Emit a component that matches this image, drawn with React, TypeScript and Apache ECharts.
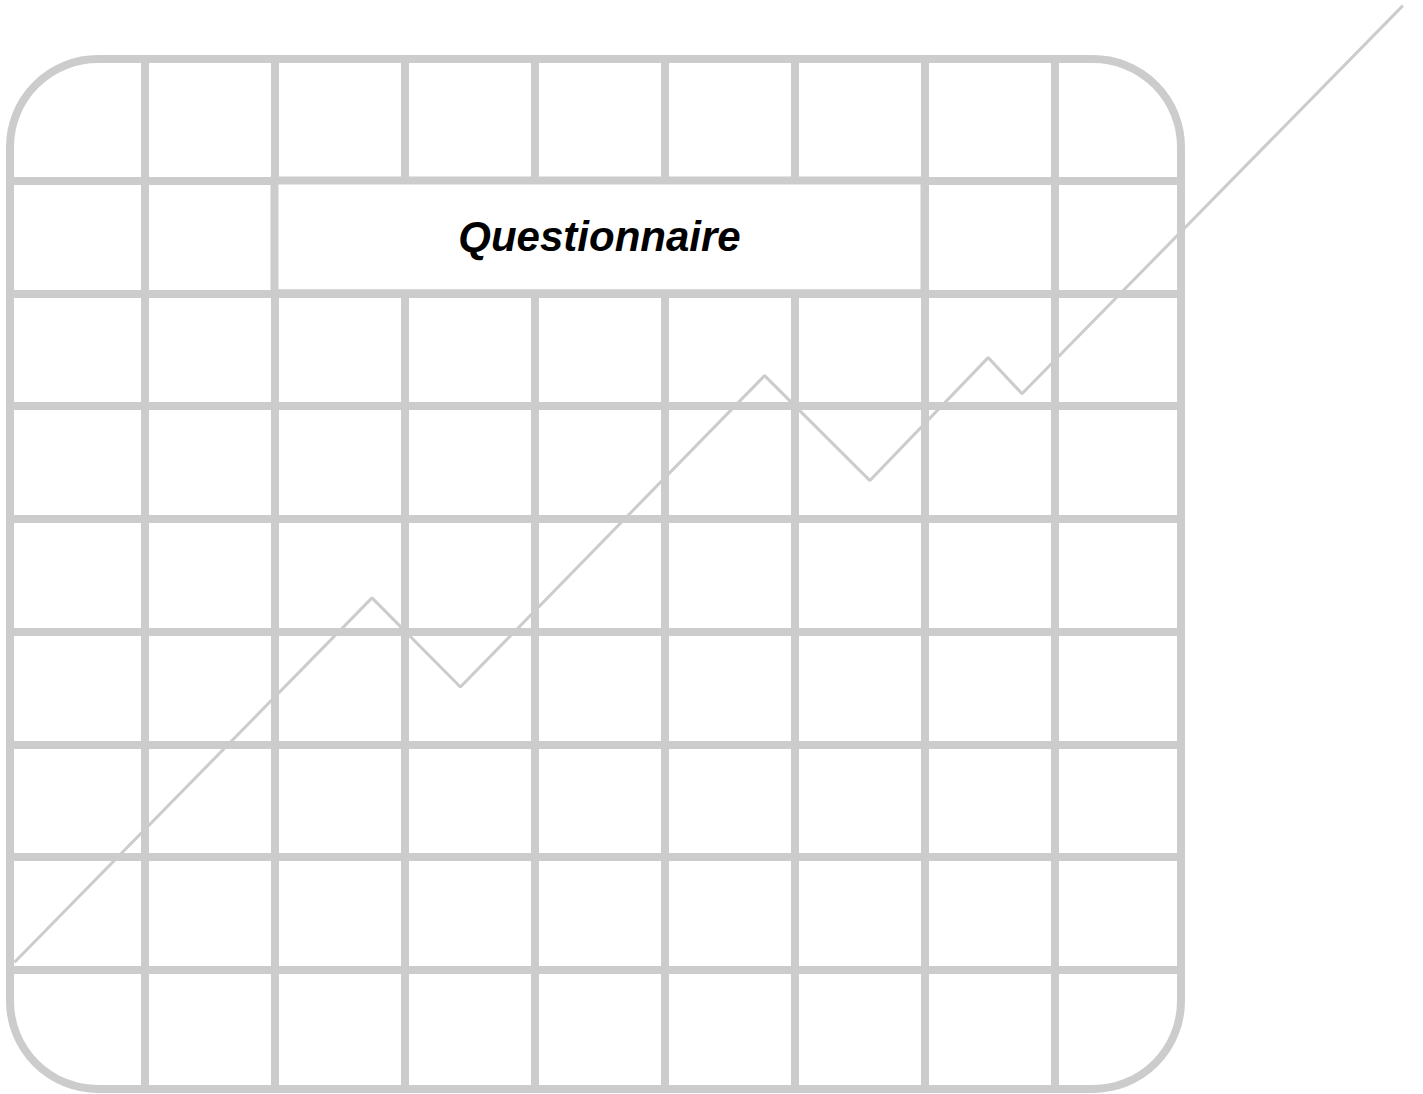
import { useEffect, useRef } from "react";
import * as echarts from "echarts";

// ---- data ----
const TITLE = "Questionnaire";
const COLUMN_COUNT = 9;
const ROW_COUNT = 9;
// zig-zag line, in grid-cell units (x: columns from left, y: rows from bottom)
const lineX = [0, 2.75, 3.43, 5.77, 6.58, 7.49, 7.75, 10.68];
const lineY = [1.07, 4.3, 3.51, 6.27, 5.34, 6.43, 6.11, 9.55];
// white title box, in grid-cell units
const titleBoxX = [2, 7];
const titleBoxY = [7, 8];

const GRAY = "#cccccc";

const hiddenAxis = { show: false };
const gridSplit = {
  show: true,
  showMinLine: false,
  showMaxLine: false,
  lineStyle: { color: GRAY, width: 8 },
};
const bareAxis = {
  axisLine: { show: false },
  axisTick: { show: false },
  axisLabel: { show: false },
};

export default function App() {
  const ref = useRef<HTMLDivElement>(null);

  useEffect(() => {
    if (!ref.current) return;
    document.body.style.margin = "0";
    const chart = echarts.init(ref.current, undefined, { renderer: "svg" });

    const lineData = lineX.map((x, i) => [x, lineY[i]]);

    chart.setOption({
      animation: false,
      backgroundColor: "#ffffff",
      grid: [
        // 0: horizontal grid lines (spans border left to right)
        { left: 10, width: 1171, top: 67.7, height: 1015 },
        // 1: vertical grid lines (spans border top to bottom)
        { left: 14.5, width: 1170, top: 59, height: 1030 },
        // 2: data grid (same cell scale: 130 px per column, 112.8 px per row)
        { left: 14.5, width: 1404, top: 0, height: 1083 },
      ],
      xAxis: [
        { gridIndex: 0, type: "value", min: 0, max: COLUMN_COUNT, ...hiddenAxis },
        {
          gridIndex: 1,
          type: "value",
          min: 0,
          max: COLUMN_COUNT,
          interval: 1,
          ...bareAxis,
          splitLine: gridSplit,
        },
        { gridIndex: 2, type: "value", min: 0, max: 10.8, ...hiddenAxis },
      ],
      yAxis: [
        {
          gridIndex: 0,
          type: "value",
          min: 0,
          max: ROW_COUNT,
          interval: 1,
          ...bareAxis,
          splitLine: gridSplit,
        },
        { gridIndex: 1, type: "value", min: 0, max: ROW_COUNT, ...hiddenAxis },
        { gridIndex: 2, type: "value", min: 0, max: 9.6, ...hiddenAxis },
      ],
      graphic: [
        {
          type: "rect",
          z: 1,
          silent: true,
          shape: { x: 10, y: 59, width: 1171, height: 1030, r: 88 },
          style: { fill: "none", stroke: GRAY, lineWidth: 8 },
        },
      ],
      series: [
        {
          type: "scatter",
          xAxisIndex: 2,
          yAxisIndex: 2,
          data: [],
          silent: true,
          markArea: {
            silent: true,
            itemStyle: { color: "#ffffff", borderColor: GRAY, borderWidth: 8 },
            label: {
              show: true,
              position: "inside",
              formatter: TITLE,
              color: "#000000",
              fontSize: 42,
              fontWeight: "bold",
              fontStyle: "italic",
              fontFamily: "Liberation Sans, Arial, sans-serif",
            },
            data: [
              [
                { coord: [titleBoxX[0], titleBoxY[1]] },
                { coord: [titleBoxX[1], titleBoxY[0]] },
              ],
            ],
          },
        },
        {
          type: "line",
          xAxisIndex: 2,
          yAxisIndex: 2,
          data: lineData,
          symbol: "none",
          clip: false,
          silent: true,
          z: 5,
          lineStyle: { color: GRAY, width: 3 },
        },
      ],
    });

    return () => chart.dispose();
  }, []);

  return (
    <div
      ref={ref}
      style={{ position: "absolute", left: 0, top: 0, width: 1423, height: 1094 }}
    />
  );
}
